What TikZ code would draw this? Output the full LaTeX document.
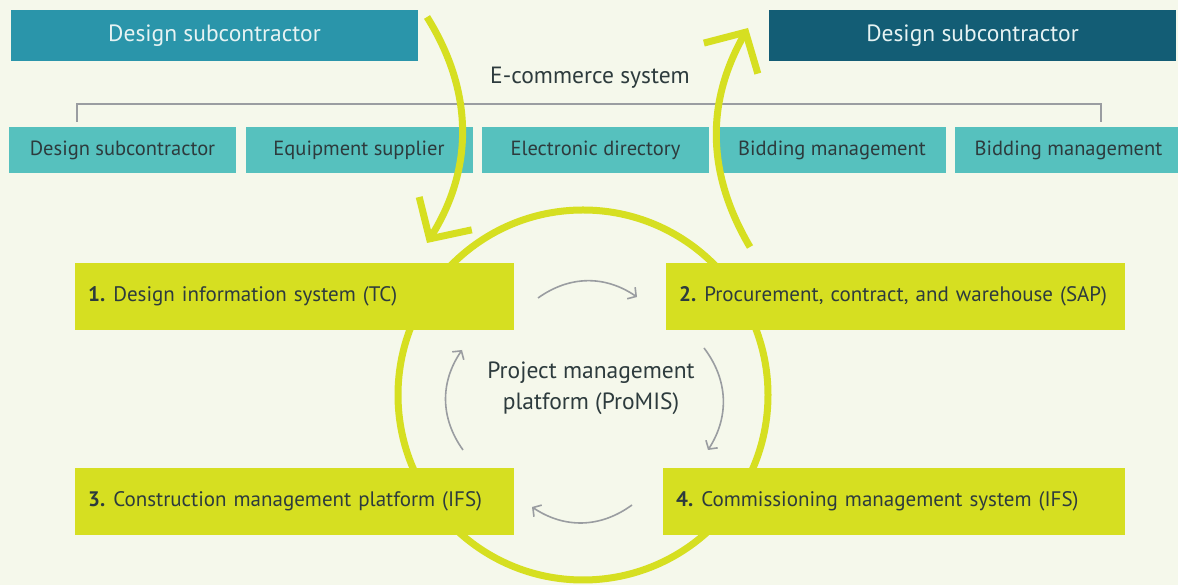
\documentclass[tikz,border=0pt]{standalone}
\usepackage{fontspec}
\setmainfont{PT Sans}
\usetikzlibrary{arrows.meta}

\definecolor{paper}{HTML}{F5F8EB}
\definecolor{tealA}{HTML}{2A95AA}
\definecolor{tealB}{HTML}{135D75}
\definecolor{tealC}{HTML}{56C1BE}
\definecolor{lime}{HTML}{D6DF21}
\definecolor{ink}{HTML}{2D3B3D}
\definecolor{headtext}{HTML}{E6F3F3}
\definecolor{wire}{HTML}{9A9DA1}

\begin{document}
\begin{tikzpicture}[x=1pt,y=1pt,
    headbox/.style={fill=#1, text=headtext, minimum width=407pt, minimum height=51pt,
        inner sep=0pt, font=\fontsize{23.5}{28}\selectfont},
    itembox/.style={fill=tealC, text=ink, minimum width=227pt, minimum height=46pt,
        inner sep=0pt, font=\fontsize{20.5}{24}\selectfont},
    stepbox/.style={fill=lime, text=ink, anchor=west, minimum height=67pt,
        minimum width=#1, text width=#1-26pt, inner xsep=13pt, align=left,
        font=\fontsize{21}{25}\selectfont},
    bigarrow/.style={lime, line width=7pt, -{Straight Barb[length=30pt,width=62pt]}},
    cyclearrow/.style={wire, line width=1.6pt, bend left=35,
        -{Straight Barb[length=6pt,width=14pt]}}]

\fill[paper] (0,0) rectangle (1178,585);
\useasboundingbox (0,0) rectangle (1178,585);

% ring behind the four steps
\draw[lime, line width=7pt] (583,190) circle (185);

\node[stepbox=439pt] (step1) at (75,288.5) {\textbf{1.}\hspace{8pt}Design information system (TC)};
\node[stepbox=459pt] (step2) at (666,288.5) {\textbf{2.}\hspace{8pt}Procurement, contract, and warehouse (SAP)};
\node[stepbox=439pt] (step3) at (75,83.5) {\textbf{3.}\hspace{8pt}Construction management platform (IFS)};
\node[stepbox=462pt] (step4) at (663,83.5) {\textbf{4.}\hspace{8pt}Commissioning management system (IFS)};

\node[headbox=tealA] (headL) at (214.5,549.5) {Design subcontractor};
\node[headbox=tealB] (headR) at (972.5,549.5) {Design subcontractor};

\node[text=ink, font=\fontsize{23.5}{28}\selectfont] (ecom) at (590,507) {E-commerce system};

\foreach \lbl [count=\i] in {Design subcontractor,Equipment supplier,Electronic directory,Bidding management,Bidding management}
{
    \node[itembox] (item\i) at ({122.5+236.5*(\i-1)},435) {\lbl};
}

\coordinate (brL) at (77,463);
\coordinate (brR) at (1101,463);
\draw[wire, line width=1.6pt] (brL) -- ++(0,18) -| (brR);

% flow between the platform and the outside
\coordinate (inA) at (427,568);
\coordinate (inB) at (427,342);
\coordinate (outA) at (750,338);
\coordinate (outB) at (748,557);
\draw[bigarrow] (inA) to[bend left=32] (inB);
\draw[bigarrow] (outA) to[bend left=30] (outB);

\node[text=ink, align=center, font=\fontsize{23.5}{31}\selectfont] (core) at (591,197)
    {Project management\\platform (ProMIS)};

\coordinate (c1a) at (538,287);
\coordinate (c1b) at (637,288);
\coordinate (c2a) at (704,237);
\coordinate (c2b) at (708,135);
\coordinate (c3a) at (632,80);
\coordinate (c3b) at (532,78);
\coordinate (c4a) at (463,135);
\coordinate (c4b) at (462,235);
\draw[cyclearrow] (c1a) to (c1b);
\draw[cyclearrow] (c2a) to (c2b);
\draw[cyclearrow] (c3a) to (c3b);
\draw[cyclearrow] (c4a) to (c4b);

\end{tikzpicture}
\end{document}
